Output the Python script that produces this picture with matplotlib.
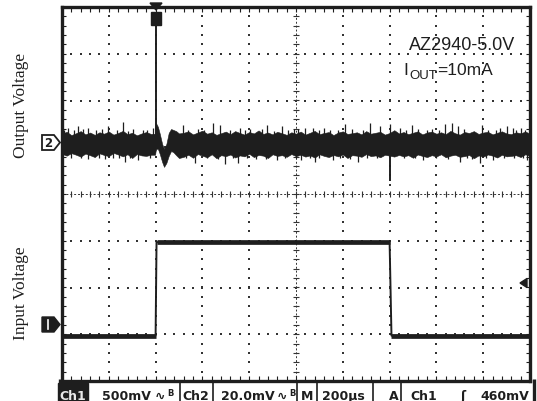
import numpy as np
import matplotlib.pyplot as plt
from matplotlib.patches import Rectangle, Polygon

W, H = 537, 402
INK = '#1e1e1e'

# scope settings (status bar)
t_div = 200.0       # us / div
ch1_div = 0.5       # V / div
ch2_div = 20.0      # mV / div
t_left = -400.0     # trigger sits 2 div from the left edge
ch2_pos = 1.07      # div, output trace level
ch1_pos = -2.78     # div, ch1 marker
ch1_ref = 6.125     # V shown at the ch1 marker

# output voltage noise band, mV about its DC level, every 20 us
out_t = np.arange(-400, 1601, 20)
out_hi = [4.5, 5.2, 3.8, 4.6, 5.5, 4.1, 4.9, 3.9, 5.0, 4.4, 5.3, 4.0, 4.7, 5.6, 4.2, 4.8, 3.7, 4.5, 5.1, 4.3,
          9.0, 4.3, -2.1, 4.7, 6.0, 4.5,
          4.8, 5.4, 4.1, 4.9, 5.7, 4.4, 5.0, 3.9, 4.6, 5.3, 4.2, 5.5, 4.7, 4.0, 5.1, 4.5, 5.8, 4.3, 4.9, 4.1,
          5.2, 4.6, 3.9, 5.0, 4.4,
          5.3, 4.0, 4.8, 5.6, 4.2, 4.7, 5.1, 3.8, 4.9, 5.4, 4.3, 4.6, 5.0, 4.1, 5.5, 4.4, 4.8, 5.2, 4.0, 4.7,
          5.9, 4.5, 5.1, 4.2, 4.8,
          5.4, 4.1, 4.9, 5.3, 4.4, 5.0, 4.2, 5.6, 4.6, 4.0, 5.1, 4.7, 5.5, 4.3, 4.9, 5.2, 4.1, 4.8, 5.4, 4.5,
          4.2, 5.0, 4.6, 5.3, 4.4]
out_lo = [-4.2, -5.0, -3.9, -4.6, -5.4, -4.1, -4.8, -5.6, -4.0, -4.7, -5.2, -3.8, -4.5, -5.3, -4.4, -6.0, -4.3,
          -4.9, -5.1, -4.6,
          -1.0, -4.3, -9.8, -5.1, -3.5, -6.0,
          -5.5, -4.6, -5.9, -4.3, -5.0, -5.7, -4.4, -6.1, -4.8, -5.2, -4.5, -5.8, -4.9, -5.3, -4.2, -5.6, -4.7,
          -5.0, -6.0, -4.4, -5.1, -4.8, -5.5, -4.3, -5.2,
          -4.6, -5.4, -4.9, -5.8, -4.4, -5.1, -5.6, -4.7, -5.3, -4.5, -6.0, -4.8, -5.0, -5.5, -4.3, -5.2, -4.9,
          -5.7, -4.6, -5.0, -5.4, -4.7, -5.3, -4.8, -5.9,
          -4.5, -5.1, -5.6, -4.8, -5.3, -4.4, -5.7, -5.0, -4.6, -5.5, -5.2, -4.7, -6.1, -4.9, -5.4, -4.5, -5.0,
          -5.8, -4.6, -5.3, -5.1, -4.8, -5.6, -4.4, -5.2]

# load transient right after the input step
tr_t = [-2, 0, 4, 10, 18, 28, 36, 46, 56, 66, 76, 88, 100]
tr_hi = [4.4, 9.0, 8.5, 7.3, 4.3, 0.0, -2.1, 0.0, 4.7, 6.4, 6.0, 5.5, 4.5]
tr_lo = [-4.6, -3.0, -2.0, -2.1, -4.3, -7.7, -9.8, -8.1, -5.1, -3.0, -3.5, -4.8, -6.0]

# single noise spikes on the output trace (us, mV)
spike_t = [-375, -332, -289, -229, -204, -140, -97, -54, -10, 117, 181, 245, 275, 360, 403, 476, 540, 590, 640,
           673, 720, 809, 916, 959, 1001, 1044, 1096, 1180, 1236, 1266, 1292, 1395, 1470, 1502, 1527, 1560,
           -290, -180, -131, -76, 168, 296, 352, 430, 519, 620, 681, 758, 865, 1142, 1301, 1350, 1386, 1441, 1587,
           -390, -350, -310, -255, -165, -120, -35, 140, 205, 320, 380, 455, 505, 565, 610, 700, 745, 780, 840,
           885, 1070, 1120, 1160, 1210, 1320, 1420, 1455, 1540, 1580,
           -360, -320, -240, -215, -155, -110, -25, 130, 220, 265, 330, 390, 470, 555, 600, 660, 700, 790, 830,
           905, 945, 1060, 1110, 1200, 1250, 1330, 1410, 1490, 1530, 1570]
spike_v = [7.0, 7.5, 7.0, 6.5, 7.7, 9.4, 6.5, 6.0, 6.8, 8.0, 6.5, 9.0, 8.0, 7.0, 6.5, 8.0, 7.5, 6.5, 7.0,
           7.0, 6.8, 8.5, 9.0, 7.5, 8.5, 7.0, 8.0, 6.6, 8.5, 9.0, 7.5, 8.0, 6.9, 7.5, 7.0, 6.7,
           -6.5, -6.2, -7.5, -6.8, -8.0, -8.5, -8.0, -6.5, -7.0, -7.0, -7.5, -7.0, -7.5, -7.0, -7.5, -6.4, -8.0,
           -7.0, -7.0,
           6.0, 5.8, 6.2, 5.9, 6.1, 5.7, 6.0, 6.0, 5.8, 6.1, 5.9, 6.2, 5.7, 6.0, 6.3, 5.8, 6.1, 5.9, 6.2,
           5.8, 6.0, 6.3, 5.9, 6.0, 6.2, 5.9, 6.1, 6.0, 5.8,
           -5.9, -6.2, -6.0, -6.3, -5.8, -6.1, -6.0, -6.2, -6.0, -6.4, -5.9, -6.1, -6.3, -5.8, -6.0, -6.2, -6.0,
           -6.1, -6.3, -6.0, -5.9, -6.2, -6.0, -6.1, -6.3, -5.9, -6.2, -6.0, -6.1, -5.9]
step_spike_t = [0, 1003]
step_spike_v = [51.0, -16.0]

# input voltage pulse
in_t = [-400, 0, 4, 1000, 1008, 1600]
in_v = [6.0, 6.0, 7.0, 7.0, 6.0, 6.0]


def tx(t):
    return (np.asarray(t, float) - t_left) / t_div


def y2(mv):
    return ch2_pos + np.asarray(mv, float) / ch2_div


def y1(v):
    return ch1_pos + (np.asarray(v, float) - ch1_ref) / ch1_div


fig = plt.figure(figsize=(W / 100, H / 100), dpi=100)
fig.patch.set_facecolor('white')
ax = fig.add_axes([62 / W, (H - 382) / H, 468 / W, 374 / H])
ax.set_xlim(0, 10)
ax.set_ylim(-4, 4)
ax.set_xticks([])
ax.set_yticks([])
for s in ax.spines.values():
    s.set_linewidth(2.4)
    s.set_color(INK)
    s.set_zorder(6)

# graticule
fine_x = np.arange(0, 10.001, 0.2)
fine_y = np.arange(-4, 4.001, 0.2)
for gx in range(1, 10):
    if gx != 5:
        ax.scatter(np.full(len(fine_y), gx), fine_y, s=1.3, marker='s', color='#333333', lw=0, zorder=1)
for gy in range(-3, 4):
    if gy != 0:
        ax.scatter(fine_x, np.full(len(fine_x), gy), s=1.3, marker='s', color='#333333', lw=0, zorder=1)
ax.plot([0, 10], [0, 0], color='#333333', lw=0.7, ls=(0, (2, 2)), zorder=1)
ax.plot([5, 5], [-4, 4], color='#333333', lw=0.7, ls=(0, (2, 2)), zorder=1)
ax.vlines(fine_x, -0.07, 0.07, color='#333333', lw=0.8, zorder=1)
ax.hlines(fine_y, 5 - 0.07, 5 + 0.07, color='#333333', lw=0.8, zorder=1)
ax.vlines(fine_x, -4, -3.9, color=INK, lw=0.8, zorder=1)
ax.vlines(fine_x, 3.9, 4, color=INK, lw=0.8, zorder=1)
ax.hlines(fine_y, 0, 0.09, color=INK, lw=0.8, zorder=1)
ax.hlines(fine_y, 9.91, 10, color=INK, lw=0.8, zorder=1)

# output voltage (ch2)
out_t_arr = np.asarray(out_t, float)
keep = (out_t_arr < tr_t[0]) | (out_t_arr > tr_t[-1])
t_all = np.concatenate([out_t_arr[keep], tr_t])
hi_all = np.concatenate([np.asarray(out_hi)[keep], tr_hi])
lo_all = np.concatenate([np.asarray(out_lo)[keep], tr_lo])
order = np.argsort(t_all)
ax.fill_between(tx(t_all[order]), y2(lo_all[order]), y2(hi_all[order]), color=INK, lw=0.4, zorder=3)
ax.vlines(tx(spike_t), y2(0), y2(spike_v), color=INK, lw=0.9, zorder=3)
ax.vlines(tx(step_spike_t), y2(0), y2(step_spike_v), color=INK, lw=1.4, zorder=3)

# input voltage (ch1)
ax.plot(tx(in_t), y1(in_v), color=INK, lw=1.4, zorder=3)
for i in range(len(in_t) - 1):
    if in_v[i] == in_v[i + 1]:
        ax.plot(tx(in_t[i:i + 2]), y1(in_v[i:i + 2]), color=INK, lw=3.4, solid_capstyle='butt', zorder=3)

# overlay in pixel coordinates
ov = fig.add_axes([0, 0, 1, 1], zorder=5)
ov.set_xlim(0, W)
ov.set_ylim(H, 0)
ov.axis('off')
ov.patch.set_alpha(0)

# channel markers
ov.add_patch(Polygon([(42, 136), (54, 136), (60, 143.5), (54, 151), (42, 151)], closed=True,
                     facecolor='white', edgecolor=INK, lw=1.3))
ov.text(48, 144, '2', ha='center', va='center', fontsize=8.5, fontweight='bold', color=INK)
ov.add_patch(Polygon([(42, 318), (54, 318), (60, 325.5), (54, 333), (42, 333)], closed=True,
                     facecolor=INK, edgecolor=INK, lw=1))
ov.plot([48, 48], [321, 330], color='white', lw=1.2)
# trigger position / level
ov.add_patch(Polygon([(150, 4), (162, 4), (156, 11)], closed=True, facecolor=INK, edgecolor=INK))
ov.add_patch(Rectangle((151, 13), 10, 13, facecolor=INK, edgecolor=INK))
ov.add_patch(Polygon([(520, 284), (527, 279.5), (527, 288.5)], closed=True, facecolor=INK, edgecolor=INK))

# side labels
ov.text(21, 105, 'Output Voltage', rotation=90, ha='center', va='center',
        family='Liberation Serif', fontsize=12.5, color=INK)
ov.text(21, 293, 'Input Voltage', rotation=90, ha='center', va='center',
        family='Liberation Serif', fontsize=12.5, color=INK)

# annotation
ov.text(409, 50, 'AZ2940-5.0V', family='Liberation Sans', fontsize=13, color=INK, va='baseline')
ov.text(403, 75, 'I', family='Liberation Sans', fontsize=12.5, color=INK, va='baseline')
ov.text(409, 79, 'OUT', family='Liberation Sans', fontsize=9.5, color=INK, va='baseline')
ov.text(437, 75, '=10mA', family='Liberation Sans', fontsize=12.5, color=INK, va='baseline')

# status bar
ov.add_patch(Rectangle((58, 384), 30, 18, facecolor=INK, edgecolor=INK))
bar = dict(fontsize=9, fontweight='bold', color=INK, va='baseline', family='DejaVu Sans')
ov.text(73, 400, 'Ch1', ha='center', **dict(bar, color='#e8e8e8'))
ov.text(102, 400, '500mV', **bar)
ov.text(155, 400, '∿', **bar)
ov.text(167, 396, 'B', **dict(bar, fontsize=6))
ov.text(196, 400, 'Ch2', ha='center', **bar)
ov.text(221, 400, '20.0mV', **bar)
ov.text(277, 400, '∿', **bar)
ov.text(289, 396, 'B', **dict(bar, fontsize=6))
ov.text(307, 400, 'M', ha='center', **bar)
ov.text(322, 400, '200µs', **bar)
ov.text(394, 400, 'A', ha='center', **bar)
ov.text(410, 400, 'Ch1', **bar)
ov.text(463, 400, 'ʃ', ha='center', **bar)
ov.text(480, 400, '460mV', **bar)
ov.vlines([180, 213, 297, 317, 373, 401], 384, 402, color=INK, lw=1.2)
ov.vlines([534], 380, 402, color=INK, lw=2.4)
ov.vlines([59.5], 380, 402, color=INK, lw=2.4)

fig.savefig('out.png', dpi=100, facecolor='white')
